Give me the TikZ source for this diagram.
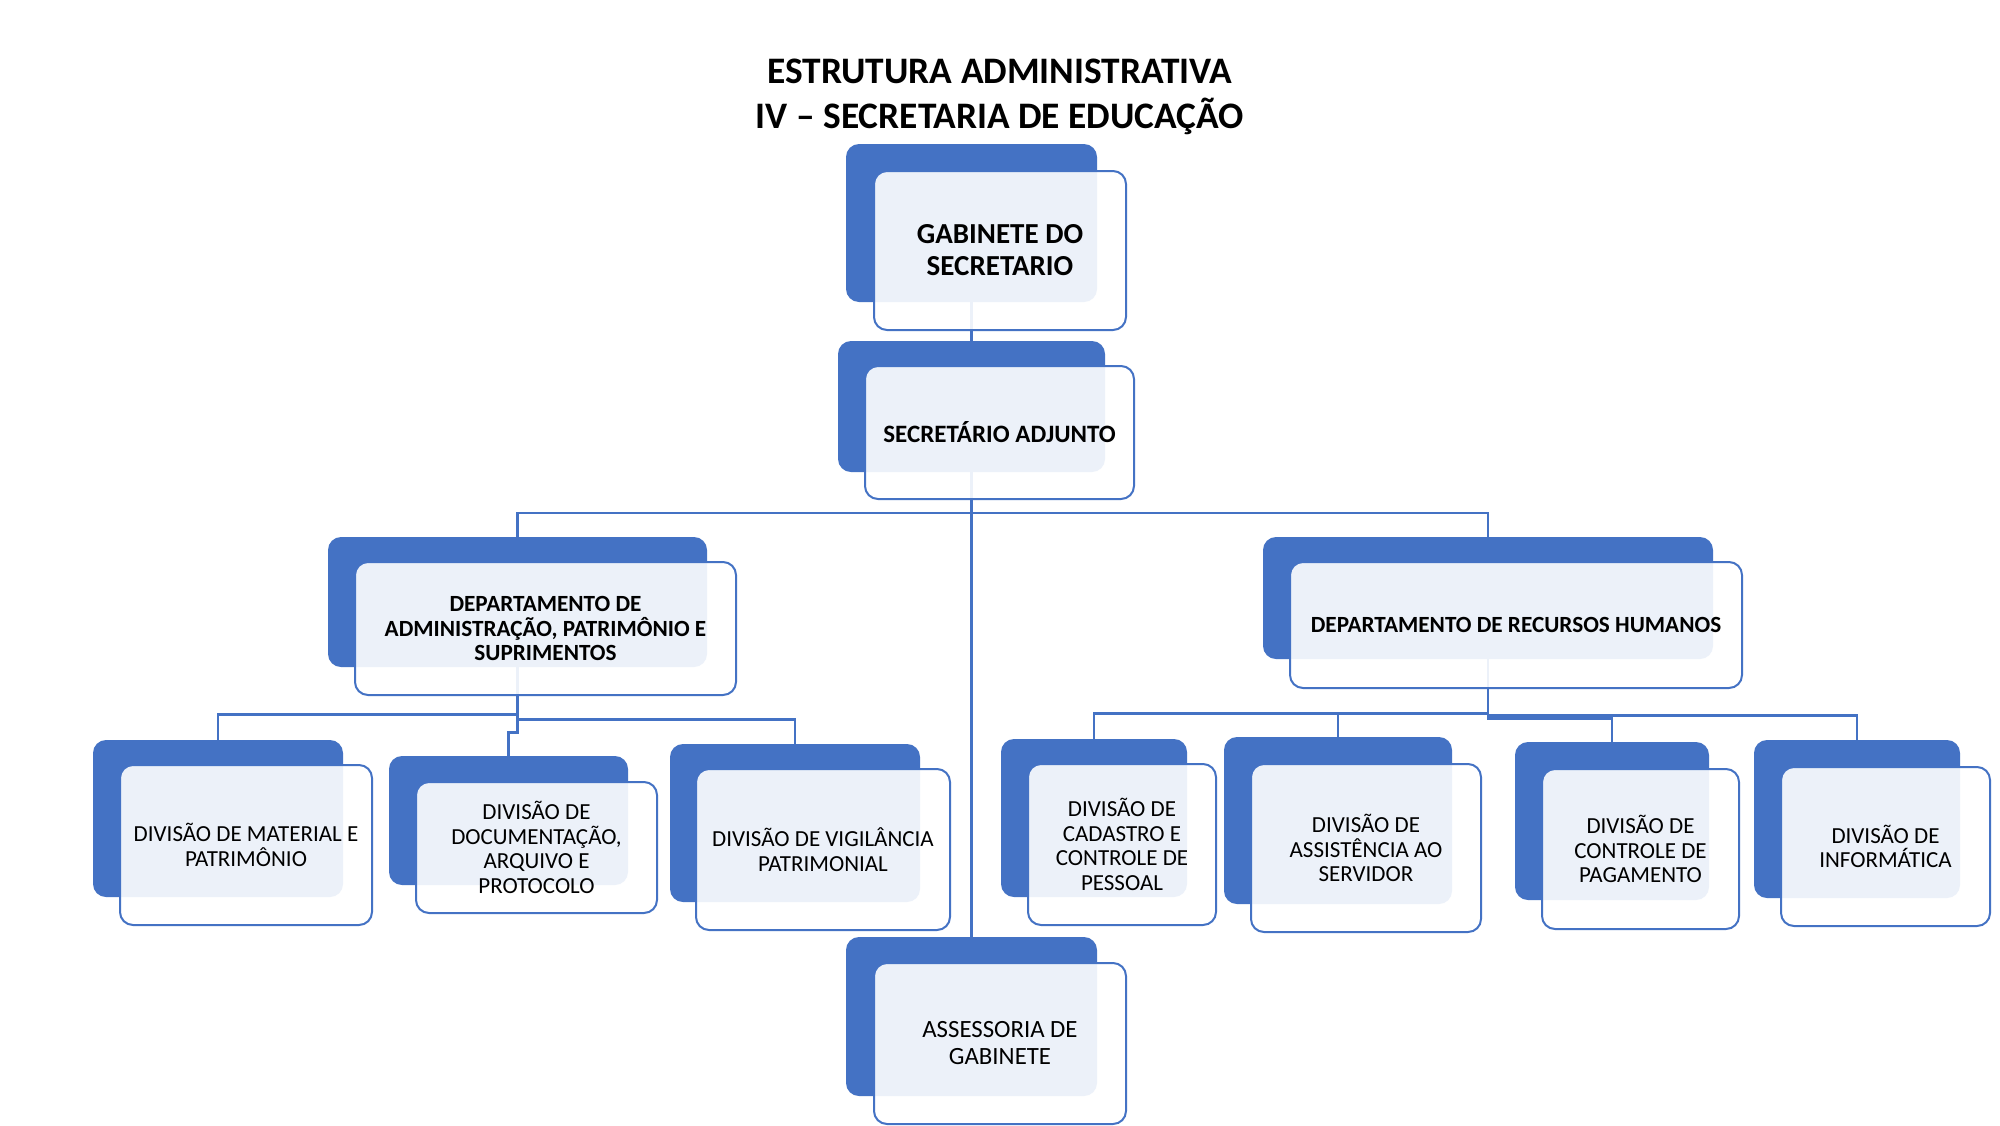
\documentclass[tikz,border=0pt]{standalone}
\usepackage{fontspec}
\setmainfont{Carlito}
\usetikzlibrary{fit}
\definecolor{orgblue}{HTML}{4472C4}
\tikzset{
  bluebox/.style={fill=orgblue, draw=none, rounded corners=6.5pt, inner sep=0pt},
  anchorbox/.style={draw=none, fill=none, inner sep=0pt},
  frontbox/.style={fill=white, fill opacity=0.9, draw=orgblue, line width=1pt, rounded corners=6.5pt, inner sep=0pt},
  lbl/.style={align=center, text=black, inner sep=0pt},
  conn/.style={draw=orgblue, line width=1.1pt},
  ttl/.style={align=center, font=\bfseries\fontsize{18.7}{22.3}\selectfont, inner sep=0pt},
  fbig/.style={font=\bfseries\fontsize{14.5}{16}\selectfont},
  fsub/.style={font=\bfseries\fontsize{12.5}{14}\selectfont},
  fdep/.style={font=\bfseries\fontsize{11.6}{12.4}\selectfont},
  fdiv/.style={font=\fontsize{11.5}{12.4}\selectfont},
  fass/.style={font=\fontsize{12.4}{13.5}\selectfont}
}
\newcommand\orgunit[7]{%
  \node[bluebox, fit={(#2) (#3)}] (#1B) {};
  \node[frontbox, fit={(#4) (#5)}] (#1) {};
  \node[lbl, #6] (#1T) at (#1.center) {#7};
}
\begin{document}
\begin{tikzpicture}[x=0.5pt, y=-0.5pt]
\useasboundingbox (0,0) rectangle (2000,1125);
\fill[white] (0,0) rectangle (2000,1125);

% title
\node[ttl] (title) at (1000,97) {ESTRUTURA ADMINISTRATIVA\\IV – SECRETARIA DE EDUCAÇÃO};

% anchors for connectors (drawn first, under boxes)
\node[anchorbox, fit={(846,144) (1097,302)}] (gabB) {};
\node[anchorbox, fit={(838,341) (1105,472)}] (secB) {};
\node[anchorbox, fit={(328,537) (707,667)}] (admB) {};
\node[anchorbox, fit={(1263,537) (1713,659)}] (rhB) {};
\node[anchorbox, fit={(93,740) (343,897)}] (matB) {};
\node[anchorbox, fit={(389,756) (628,885)}] (docB) {};
\node[anchorbox, fit={(670,744) (920,902)}] (vigB) {};
\node[anchorbox, fit={(846,937) (1097,1096)}] (assB) {};
\node[anchorbox, fit={(1001,739) (1187,897)}] (cadB) {};
\node[anchorbox, fit={(1224,737) (1452,904)}] (asiB) {};
\node[anchorbox, fit={(1515,742) (1709,900)}] (pagB) {};
\node[anchorbox, fit={(1754,740) (1960,898)}] (infB) {};

% connectors
\draw[conn] (gabB.south) -- (secB.north);
\draw[conn] (secB.south) -- (assB.north);
\draw[conn] (admB.north) -- ++(0,-24) -| (rhB.north);
\draw[conn] (admB.south) -- ++(0,52) -| (vigB.north);
\draw[conn] (admB.south) ++(0,47) -| (matB.north);
\draw[conn] (admB.south) ++(0,47) -- ++(0,18) -| (docB.north);
\draw[conn] (rhB.south) -- ++(0,59) -| (pagB.north);
\draw[conn] (rhB.south) ++(0,54) -| (cadB.north);
\draw[conn] (rhB.south) ++(0,54) -| (asiB.north);
\draw[conn] (rhB.south) ++(0,56) -| (infB.north);

% units
\orgunit{gab}{846,144}{1097,302}{874,171}{1126,330}{fbig}{GABINETE DO\\SECRETARIO}
\orgunit{sec}{838,341}{1105,472}{865,366}{1134,499}{fsub}{SECRETÁRIO ADJUNTO}
\orgunit{adm}{328,537}{707,667}{355,562}{736,695}{fdep}{DEPARTAMENTO DE\\ADMINISTRAÇÃO, PATRIMÔNIO E\\SUPRIMENTOS}
\orgunit{rh}{1263,537}{1713,659}{1290,562}{1742,688}{fdep}{DEPARTAMENTO DE RECURSOS HUMANOS}
\orgunit{mat}{93,740}{343,897}{120,765}{372,925}{fdiv}{DIVISÃO DE MATERIAL E\\PATRIMÔNIO}
\orgunit{doc}{389,756}{628,885}{416,782}{657,913}{fdiv}{DIVISÃO DE\\DOCUMENTAÇÃO,\\ARQUIVO E\\PROTOCOLO}
\orgunit{vig}{670,744}{920,902}{696,769}{950,930}{fdiv}{DIVISÃO DE VIGILÂNCIA\\PATRIMONIAL}
\orgunit{ass}{846,937}{1097,1096}{874,963}{1126,1124}{fass}{ASSESSORIA DE\\GABINETE}
\orgunit{cad}{1001,739}{1187,897}{1028,764}{1216,925}{fdiv}{DIVISÃO DE\\CADASTRO E\\CONTROLE DE\\PESSOAL}
\orgunit{asi}{1224,737}{1452,904}{1251,764}{1481,932}{fdiv}{DIVISÃO DE\\ASSISTÊNCIA AO\\SERVIDOR}
\orgunit{pag}{1515,742}{1709,900}{1542,769}{1739,929}{fdiv}{DIVISÃO DE\\CONTROLE DE\\PAGAMENTO}
\orgunit{inf}{1754,740}{1960,898}{1781,767}{1990,926}{fdiv}{DIVISÃO DE\\INFORMÁTICA}
\end{tikzpicture}
\end{document}
